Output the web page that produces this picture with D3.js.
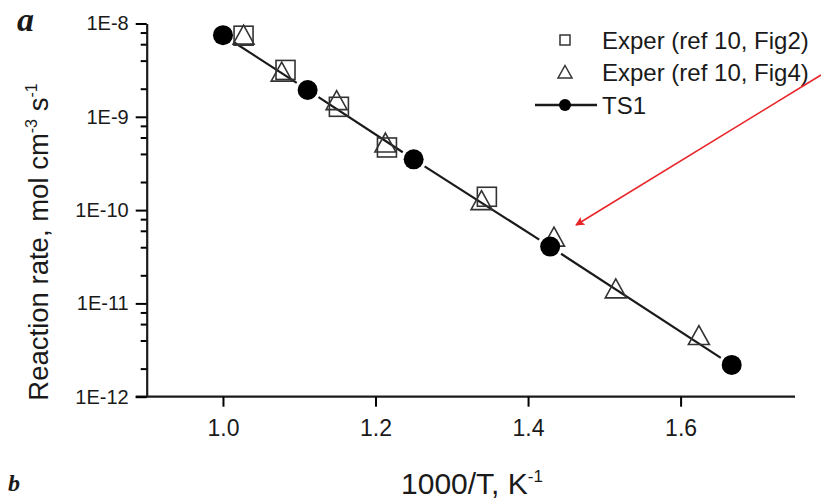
<!DOCTYPE html>
<html>
<head>
<meta charset="utf-8">
<script src="https://cdn.jsdelivr.net/npm/d3@7"></script>
<style>
  body { margin: 0; background: #fff; }
  svg { display: block; }
</style>
</head>
<body>
<div id="chart-area"></div>
<script>
// axis setup
const xDomain = [0.9, 1.75];
const yDomain = [1e-12, 1e-8];
const xTicks = [1.0, 1.2, 1.4, 1.6];
const yTicks = [1e-8, 1e-9, 1e-10, 1e-11, 1e-12];
const yTickLabels = ["1E-8", "1E-9", "1E-10", "1E-11", "1E-12"];
const yMinorMult = [2, 4, 6, 8];

// TS1 (calculated)
const ts1X = [1.0, 1.111, 1.25, 1.429, 1.667];
const ts1Y = [7.5e-9, 1.94e-9, 3.5e-10, 4.06e-11, 2.19e-12];

// Exper (ref 10, Fig2)
const fig2X = [1.027, 1.082, 1.152, 1.215, 1.346];
const fig2Y = [7.4e-9, 3.18e-9, 1.28e-9, 4.69e-10, 1.39e-10];

// Exper (ref 10, Fig4)
const fig4X = [1.027, 1.077, 1.149, 1.213, 1.339, 1.434, 1.515, 1.624];
const fig4Y = [7.6e-9, 3.05e-9, 1.51e-9, 5.3e-10, 1.28e-10, 5.19e-11, 1.45e-11, 4.58e-12];

const legendNames = ["Exper (ref 10, Fig2)", "Exper (ref 10, Fig4)", "TS1"];

const W = 821, H = 499;
const plotL = 146.7, plotR = 795, plotT = 23.5, plotB = 396.7;
const font = "'Liberation Sans', Arial, sans-serif";
const ink = "#1a1a1a";

const svg = d3.select("#chart-area").append("svg")
    .attr("width", W)
    .attr("height", H);

const x = d3.scaleLinear().domain(xDomain).range([plotL, plotR]);
const y = d3.scaleLog().domain(yDomain).range([plotB, plotT]);

// x axis
const xAxis = svg.append("g")
    .attr("transform", `translate(0, ${plotB})`)
    .call(d3.axisBottom(x).tickValues(xTicks).tickSize(10).tickSizeOuter(0).tickPadding(13)
        .tickFormat(d3.format(".1f")));
xAxis.select(".domain").attr("d", `M${plotL - 11},0H${plotR}`);
xAxis.selectAll("line").attr("stroke-width", 2);
xAxis.selectAll("text").attr("font-family", font).attr("font-size", 23).attr("fill", ink);

// y axis, major ticks
const yAxis = svg.append("g")
    .attr("transform", `translate(${plotL}, 0)`)
    .call(d3.axisLeft(y).tickValues(yTicks).tickSize(11).tickSizeOuter(0).tickPadding(7)
        .tickFormat((d, i) => yTickLabels[i]));
yAxis.selectAll("line").attr("stroke-width", 2);
yAxis.selectAll("text").attr("font-family", font).attr("font-size", 20).attr("fill", ink);

// y axis, minor ticks
const minor = [];
yTicks.slice(1).forEach(t => yMinorMult.forEach(m => minor.push(t * m)));
const yMinor = svg.append("g")
    .attr("transform", `translate(${plotL}, 0)`)
    .call(d3.axisLeft(y).tickValues(minor).tickSize(6).tickFormat(""));
yMinor.select(".domain").remove();
yMinor.selectAll("line").attr("stroke-width", 2);

svg.selectAll(".domain").attr("stroke-width", 2.2).attr("stroke", ink);

// axis titles
svg.append("text")
    .attr("x", 472).attr("y", 494)
    .attr("text-anchor", "middle")
    .attr("font-family", font).attr("font-size", 30).attr("fill", ink)
    .text("1000/T, K")
    .append("tspan").attr("dy", -12).attr("font-size", 17).text("-1");

const yt = svg.append("text")
    .attr("transform", "translate(48, 242) rotate(-90)")
    .attr("text-anchor", "middle")
    .attr("font-family", font).attr("font-size", 27.5).attr("fill", ink);
yt.append("tspan").text("Reaction rate, mol cm");
yt.append("tspan").attr("dy", -11).attr("font-size", 16).text("-3");
yt.append("tspan").attr("dy", 11).text(" s");
yt.append("tspan").attr("dy", -11).attr("font-size", 16).text("-1");

// panel letters
const serif = "'Liberation Serif', 'Times New Roman', serif";
svg.append("text").attr("x", 17).attr("y", 31)
    .attr("font-family", serif)
    .attr("font-style", "italic").attr("font-weight", "bold")
    .attr("font-size", 34).attr("fill", ink).text("a");
svg.append("text").attr("x", 8).attr("y", 491)
    .attr("font-family", serif)
    .attr("font-style", "italic").attr("font-weight", "bold")
    .attr("font-size", 24).attr("fill", ink).text("b");

// TS1 line with gaps around the circles
const r = 10, gap = r + 3;
const ts1 = ts1X.map((d, i) => [x(d), y(ts1Y[i])]);
for (let i = 0; i < ts1.length - 1; i++) {
    const [x0, y0] = ts1[i], [x1, y1] = ts1[i + 1];
    const len = Math.hypot(x1 - x0, y1 - y0);
    const ux = (x1 - x0) / len, uy = (y1 - y0) / len;
    svg.append("line")
        .attr("x1", x0 + ux * gap).attr("y1", y0 + uy * gap)
        .attr("x2", x1 - ux * gap).attr("y2", y1 - uy * gap)
        .attr("stroke", ink).attr("stroke-width", 2.2);
}

// open squares
const sq = 19;
svg.append("g").selectAll("rect")
    .data(fig2X.map((d, i) => [d, fig2Y[i]]))
    .join("rect")
    .attr("x", d => x(d[0]) - sq / 2).attr("y", d => y(d[1]) - sq / 2)
    .attr("width", sq).attr("height", sq)
    .attr("fill", "none").attr("stroke", "#333").attr("stroke-width", 1.6);

// open triangles
const tw = 21, th = 19;
const tri = `M0,${-th / 2}L${tw / 2},${th / 2}L${-tw / 2},${th / 2}Z`;
svg.append("g").selectAll("path")
    .data(fig4X.map((d, i) => [d, fig4Y[i]]))
    .join("path")
    .attr("transform", d => `translate(${x(d[0])}, ${y(d[1])})`)
    .attr("d", tri)
    .attr("fill", "none").attr("stroke", "#333").attr("stroke-width", 1.6)
    .attr("stroke-linejoin", "miter");

// TS1 circles
svg.append("g").selectAll("circle")
    .data(ts1)
    .join("circle")
    .attr("cx", d => d[0]).attr("cy", d => d[1]).attr("r", r)
    .attr("fill", "#000");

// legend
const lg = svg.append("g");
const lx = 565, ly = [40, 72, 105], tx = 602;
lg.append("rect").attr("x", lx - 5).attr("y", ly[0] - 5).attr("width", 10).attr("height", 10)
    .attr("fill", "none").attr("stroke", "#333").attr("stroke-width", 1.5);
lg.append("path").attr("transform", `translate(${lx}, ${ly[1]})`)
    .attr("d", "M0,-6.5L7,6L-7,6Z")
    .attr("fill", "none").attr("stroke", "#333").attr("stroke-width", 1.5);
lg.append("line").attr("x1", 535).attr("x2", 597).attr("y1", ly[2]).attr("y2", ly[2])
    .attr("stroke", ink).attr("stroke-width", 2.4);
lg.append("circle").attr("cx", lx).attr("cy", ly[2]).attr("r", 6).attr("fill", "#000");
legendNames.forEach((n, i) => {
    lg.append("text").attr("x", tx).attr("y", ly[i]).attr("dy", "0.36em")
        .attr("font-family", font).attr("font-size", 24).attr("fill", ink).text(n);
});

// red arrow pointing at the 700 K point
const ax0 = 821, ay0 = 75, ax1 = 576, ay1 = 225;
svg.append("defs").append("marker")
    .attr("id", "head").attr("viewBox", "0 0 10 10")
    .attr("refX", 9).attr("refY", 5)
    .attr("markerWidth", 10).attr("markerHeight", 9).attr("markerUnits", "userSpaceOnUse")
    .attr("orient", "auto")
    .append("path").attr("d", "M0,0L10,5L0,10L2,5Z").attr("fill", "#e8262a");
svg.append("line")
    .attr("x1", ax0).attr("y1", ay0).attr("x2", ax1).attr("y2", ay1)
    .attr("stroke", "#e8262a").attr("stroke-width", 1.6)
    .attr("marker-end", "url(#head)");
</script>
</body>
</html>
